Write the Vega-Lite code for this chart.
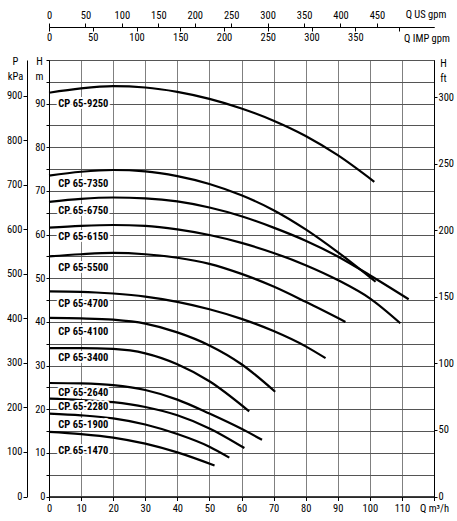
{
  "$schema": "https://vega.github.io/schema/vega-lite/v6.json",
  "width": 385,
  "height": 436.5,
  "autosize": "none",
  "padding": {"left": 49, "top": 60, "right": 23, "bottom": 25},
  "background": "white",
  "datasets": {
    "curves": [
      {"pump": "CP 65-9250", "q": 0, "h": 92.5}, {"pump": "CP 65-9250", "q": 10, "h": 93.5}, {"pump": "CP 65-9250", "q": 20, "h": 94.0},
      {"pump": "CP 65-9250", "q": 30, "h": 93.7}, {"pump": "CP 65-9250", "q": 40, "h": 92.7}, {"pump": "CP 65-9250", "q": 50, "h": 91.1},
      {"pump": "CP 65-9250", "q": 60, "h": 88.9}, {"pump": "CP 65-9250", "q": 70, "h": 86.1}, {"pump": "CP 65-9250", "q": 80, "h": 82.6},
      {"pump": "CP 65-9250", "q": 90, "h": 78.2}, {"pump": "CP 65-9250", "q": 101.4, "h": 72.1},
      {"pump": "CP 65-7350", "q": 0, "h": 73.5}, {"pump": "CP 65-7350", "q": 10, "h": 74.4}, {"pump": "CP 65-7350", "q": 20, "h": 74.8},
      {"pump": "CP 65-7350", "q": 30, "h": 74.5}, {"pump": "CP 65-7350", "q": 40, "h": 73.4}, {"pump": "CP 65-7350", "q": 50, "h": 71.6},
      {"pump": "CP 65-7350", "q": 60, "h": 69.0}, {"pump": "CP 65-7350", "q": 70, "h": 65.6}, {"pump": "CP 65-7350", "q": 80, "h": 61.2},
      {"pump": "CP 65-7350", "q": 90, "h": 56.0}, {"pump": "CP 65-7350", "q": 101.8, "h": 49.2},
      {"pump": "CP 65-6750", "q": 0, "h": 67.5}, {"pump": "CP 65-6750", "q": 10, "h": 68.2}, {"pump": "CP 65-6750", "q": 20, "h": 68.5},
      {"pump": "CP 65-6750", "q": 30, "h": 68.3}, {"pump": "CP 65-6750", "q": 40, "h": 67.6}, {"pump": "CP 65-6750", "q": 50, "h": 66.2},
      {"pump": "CP 65-6750", "q": 60, "h": 64.2}, {"pump": "CP 65-6750", "q": 70, "h": 61.6}, {"pump": "CP 65-6750", "q": 80, "h": 58.6},
      {"pump": "CP 65-6750", "q": 90, "h": 55.0}, {"pump": "CP 65-6750", "q": 100, "h": 50.7}, {"pump": "CP 65-6750", "q": 112.1, "h": 45.2},
      {"pump": "CP 65-6150", "q": 0, "h": 61.6}, {"pump": "CP 65-6150", "q": 10, "h": 62.0}, {"pump": "CP 65-6150", "q": 20, "h": 62.2},
      {"pump": "CP 65-6150", "q": 30, "h": 62.0}, {"pump": "CP 65-6150", "q": 40, "h": 61.2}, {"pump": "CP 65-6150", "q": 50, "h": 59.9},
      {"pump": "CP 65-6150", "q": 60, "h": 58.1}, {"pump": "CP 65-6150", "q": 70, "h": 55.8}, {"pump": "CP 65-6150", "q": 80, "h": 53.0},
      {"pump": "CP 65-6150", "q": 90, "h": 49.6}, {"pump": "CP 65-6150", "q": 100, "h": 45.4}, {"pump": "CP 65-6150", "q": 109.5, "h": 39.7},
      {"pump": "CP 65-5500", "q": 0, "h": 55.0}, {"pump": "CP 65-5500", "q": 10, "h": 55.5}, {"pump": "CP 65-5500", "q": 20, "h": 55.8},
      {"pump": "CP 65-5500", "q": 30, "h": 55.5}, {"pump": "CP 65-5500", "q": 40, "h": 54.7}, {"pump": "CP 65-5500", "q": 50, "h": 53.3},
      {"pump": "CP 65-5500", "q": 60, "h": 51.0}, {"pump": "CP 65-5500", "q": 70, "h": 48.1}, {"pump": "CP 65-5500", "q": 80, "h": 44.6},
      {"pump": "CP 65-5500", "q": 92.4, "h": 40.0},
      {"pump": "CP 65-4700", "q": 0, "h": 47.0}, {"pump": "CP 65-4700", "q": 10, "h": 46.9}, {"pump": "CP 65-4700", "q": 20, "h": 46.5},
      {"pump": "CP 65-4700", "q": 30, "h": 45.8}, {"pump": "CP 65-4700", "q": 40, "h": 44.6}, {"pump": "CP 65-4700", "q": 50, "h": 42.9},
      {"pump": "CP 65-4700", "q": 60, "h": 40.7}, {"pump": "CP 65-4700", "q": 70, "h": 37.9}, {"pump": "CP 65-4700", "q": 80, "h": 34.4},
      {"pump": "CP 65-4700", "q": 86.2, "h": 31.7},
      {"pump": "CP 65-4100", "q": 0, "h": 40.9}, {"pump": "CP 65-4100", "q": 10, "h": 40.8}, {"pump": "CP 65-4100", "q": 20, "h": 40.5},
      {"pump": "CP 65-4100", "q": 30, "h": 39.6}, {"pump": "CP 65-4100", "q": 40, "h": 37.6}, {"pump": "CP 65-4100", "q": 50, "h": 34.6},
      {"pump": "CP 65-4100", "q": 60, "h": 30.3}, {"pump": "CP 65-4100", "q": 70.5, "h": 24.0},
      {"pump": "CP 65-3400", "q": 0, "h": 34.0}, {"pump": "CP 65-3400", "q": 10, "h": 34.0}, {"pump": "CP 65-3400", "q": 20, "h": 33.8},
      {"pump": "CP 65-3400", "q": 30, "h": 32.8}, {"pump": "CP 65-3400", "q": 40, "h": 30.3}, {"pump": "CP 65-3400", "q": 50, "h": 26.4},
      {"pump": "CP 65-3400", "q": 62.4, "h": 19.5},
      {"pump": "CP 65-2640", "q": 0, "h": 26.0}, {"pump": "CP 65-2640", "q": 10, "h": 25.9}, {"pump": "CP 65-2640", "q": 20, "h": 25.5},
      {"pump": "CP 65-2640", "q": 30, "h": 24.4}, {"pump": "CP 65-2640", "q": 40, "h": 22.2}, {"pump": "CP 65-2640", "q": 50, "h": 19.0},
      {"pump": "CP 65-2640", "q": 60, "h": 15.5}, {"pump": "CP 65-2640", "q": 66.4, "h": 13.0},
      {"pump": "CP 65-2280", "q": 0, "h": 22.4}, {"pump": "CP 65-2280", "q": 10, "h": 22.1}, {"pump": "CP 65-2280", "q": 20, "h": 21.6},
      {"pump": "CP 65-2280", "q": 30, "h": 20.5}, {"pump": "CP 65-2280", "q": 40, "h": 18.6}, {"pump": "CP 65-2280", "q": 50, "h": 15.6},
      {"pump": "CP 65-2280", "q": 60.9, "h": 11.1},
      {"pump": "CP 65-1900", "q": 0, "h": 19.0}, {"pump": "CP 65-1900", "q": 10, "h": 18.6}, {"pump": "CP 65-1900", "q": 20, "h": 17.9},
      {"pump": "CP 65-1900", "q": 30, "h": 16.5}, {"pump": "CP 65-1900", "q": 40, "h": 14.3}, {"pump": "CP 65-1900", "q": 50, "h": 11.4},
      {"pump": "CP 65-1900", "q": 56.2, "h": 8.9},
      {"pump": "CP 65-1470", "q": 0, "h": 14.8}, {"pump": "CP 65-1470", "q": 10, "h": 14.3}, {"pump": "CP 65-1470", "q": 20, "h": 13.5},
      {"pump": "CP 65-1470", "q": 30, "h": 12.1}, {"pump": "CP 65-1470", "q": 40, "h": 10.1}, {"pump": "CP 65-1470", "q": 51.6, "h": 7.1}
    ],
    "labels": [
      {"pump": "CP 65-9250", "q": 10.7, "h": 90.0},
      {"pump": "CP 65-7350", "q": 10.7, "h": 71.7},
      {"pump": "CP 65-6750", "q": 10.7, "h": 65.4},
      {"pump": "CP 65-6150", "q": 10.7, "h": 59.5},
      {"pump": "CP 65-5500", "q": 10.7, "h": 52.3},
      {"pump": "CP 65-4700", "q": 10.7, "h": 44.1},
      {"pump": "CP 65-4100", "q": 10.7, "h": 37.8},
      {"pump": "CP 65-3400", "q": 10.7, "h": 31.7},
      {"pump": "CP 65-2640", "q": 10.7, "h": 23.8},
      {"pump": "CP 65-2280", "q": 10.7, "h": 20.5},
      {"pump": "CP 65-1900", "q": 10.7, "h": 16.4},
      {"pump": "CP 65-1470", "q": 10.7, "h": 10.5}
    ]
  },
  "layer": [
    {
      "data": {"name": "curves"},
      "mark": {"type": "line", "color": "black", "strokeWidth": 2.2, "interpolate": "monotone"},
      "encoding": {
        "x": {
          "field": "q", "type": "quantitative",
          "scale": {"domain": [0, 120], "nice": false},
          "axis": {
            "orient": "bottom", "title": null, "grid": true, "gridColor": "#808080",
            "values": [0, 10, 20, 30, 40, 50, 60, 70, 80, 90, 100, 110, 120],
            "labelExpr": "datum.value == 120 ? 'Q m³/h' : datum.label",
            "tickSize": 4, "labelPadding": 3, "labelFlush": false, "labelOverlap": false
          }
        },
        "y": {
          "field": "h", "type": "quantitative",
          "scale": {"domain": [0, 100], "nice": false},
          "axis": {
            "orient": "left", "grid": true, "gridColor": "#555555",
            "values": [0, 5, 10, 15, 20, 25, 30, 35, 40, 45, 50, 55, 60, 65, 70, 75, 80, 85, 90, 95, 100],
            "labelExpr": "datum.value % 10 == 0 && datum.value < 100 ? datum.label : ''",
            "tickSize": 3, "labelPadding": 1, "labelFlush": false, "labelOverlap": false,
            "title": ["H", "m"], "titleAngle": 0, "titleX": -10, "titleY": 4,
            "titleAlign": "center", "titleBaseline": "alphabetic", "titleLineHeight": 15
          }
        },
        "detail": {"field": "pump"}
      }
    },
    {
      "data": {"name": "curves"},
      "mark": {"type": "point", "opacity": 0},
      "encoding": {
        "x": {
          "field": "q", "type": "quantitative",
          "axis": {
            "orient": "top", "offset": 33, "grid": false,
            "values": [0, 11.35624, 22.71247, 34.06871, 45.42494, 56.78118, 68.13742, 79.49365, 90.84989, 102.2061],
            "labelExpr": "format(datum.value * 4.402868, '.0f')",
            "tickSize": 4, "labelPadding": 3, "labelFlush": false, "labelOverlap": false,
            "title": "Q US gpm", "titleAngle": 0, "titleX": 376.5, "titleY": -10,
            "titleAlign": "center", "titleBaseline": "alphabetic"
          }
        },
        "y": {
          "field": "h", "type": "quantitative",
          "axis": {
            "orient": "left", "offset": 22, "grid": false,
            "values": [0, 10.19716, 20.39432, 30.59149, 40.78865, 50.98581, 61.18297, 71.38013, 81.5773, 91.77446],
            "labelExpr": "format(datum.value * 9.80665, '.0f')",
            "tickSize": 4, "labelPadding": 1, "labelFlush": false, "labelOverlap": false,
            "title": ["P", "kPa"], "titleAngle": 0, "titleX": -12, "titleY": 4,
            "titleAlign": "center", "titleBaseline": "alphabetic", "titleLineHeight": 15
          }
        }
      }
    },
    {
      "data": {"name": "curves"},
      "mark": {"type": "point", "opacity": 0},
      "encoding": {
        "x": {
          "field": "q", "type": "quantitative",
          "axis": {
            "orient": "bottom", "offset": -469.5, "grid": false,
            "values": [0, 13.63826, 27.27652, 40.91478, 54.55304, 68.1913, 81.82956, 95.46782, 109.1061],
            "labelExpr": "datum.value > 100 ? '' : format(datum.value * 3.666154, '.0f')",
            "tickSize": 4, "labelPadding": 1, "labelFlush": false, "labelOverlap": false,
            "title": "Q IMP gpm", "titleAngle": 0, "titleX": 377.5, "titleY": 14,
            "titleAlign": "center", "titleBaseline": "alphabetic"
          }
        },
        "y": {
          "field": "h", "type": "quantitative",
          "axis": {
            "orient": "right", "grid": false,
            "values": [0, 15.24, 30.48, 45.72, 60.96, 76.2, 91.44],
            "labelExpr": "format(datum.value / 0.3048, '.0f')",
            "tickSize": 3, "labelPadding": 1, "labelFlush": false, "labelOverlap": false,
            "title": ["H", "ft"], "titleAngle": 0, "titleX": 9, "titleY": 6,
            "titleAlign": "center", "titleBaseline": "alphabetic", "titleLineHeight": 15
          }
        }
      }
    },
    {
      "data": {"name": "labels"},
      "mark": {"type": "text", "font": "Roboto Condensed, Liberation Sans", "fontWeight": "bold", "fontSize": 10.5, "align": "center", "baseline": "middle", "stroke": "white", "strokeWidth": 4, "color": "white"},
      "encoding": {
        "x": {"field": "q", "type": "quantitative", "axis": null},
        "y": {"field": "h", "type": "quantitative", "axis": null},
        "text": {"field": "pump"}
      }
    },
    {
      "data": {"name": "labels"},
      "mark": {"type": "text", "font": "Roboto Condensed, Liberation Sans", "fontWeight": "bold", "fontSize": 10.5, "align": "center", "baseline": "middle", "color": "black"},
      "encoding": {
        "x": {"field": "q", "type": "quantitative", "axis": null},
        "y": {"field": "h", "type": "quantitative", "axis": null},
        "text": {"field": "pump"}
      }
    }
  ],
  "resolve": {"axis": {"x": "independent", "y": "independent"}},
  "config": {
    "font": "Roboto Condensed, Liberation Sans",
    "view": {"stroke": "black", "strokeWidth": 1},
    "axis": {
      "labelFont": "Roboto Condensed, Liberation Sans",
      "titleFont": "Roboto Condensed, Liberation Sans",
      "labelFontSize": 10.5, "titleFontSize": 10.5, "titleFontWeight": "normal",
      "labelColor": "black", "titleColor": "black",
      "domainColor": "black", "tickColor": "black", "gridWidth": 1
    }
  }
}
